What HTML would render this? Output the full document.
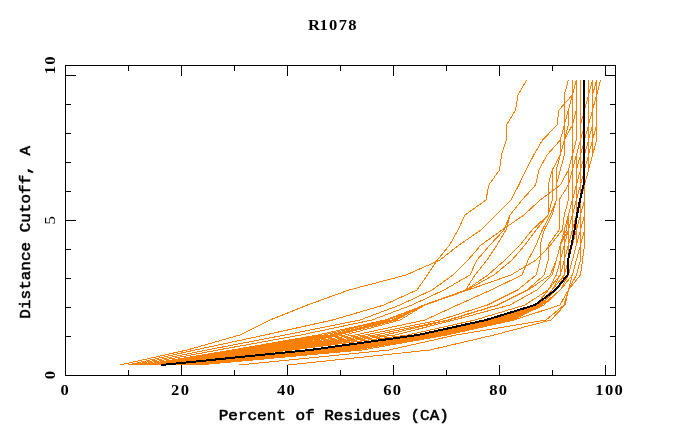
<!DOCTYPE html>
<html lang="en"><head><meta charset="utf-8"><title>R1078</title>
<style>
html,body{margin:0;padding:0;background:#fff;}
body{width:680px;height:440px;overflow:hidden;}
svg{display:block;will-change:transform;}
text{font-family:"Liberation Mono","DejaVu Sans Mono",monospace;font-weight:bold;font-size:14.2px;fill:#000;}
text.d{font-family:"Liberation Serif","DejaVu Serif",serif;font-size:14.8px;}
text.l{font-weight:normal;stroke:#000;stroke-width:0.55px;stroke-linejoin:round;}
</style></head><body>
<svg width="680" height="440" viewBox="0 0 680 440">
<rect x="0" y="0" width="680" height="440" fill="#fff"/>
<g shape-rendering="crispEdges" stroke-linejoin="round">
<polyline points="120,365 187,350 240,335 270,320 307.5,305 349,290 406,275 440,260 459,245 481,230 496,215 511,200 518.8,185 526,170 533.8,155 542.5,140 557,125 559,110 572.4,95 576.4,80" fill="none" stroke="#ff8000" stroke-width="1"/>
<polyline points="128,365 195,350 265,335 332.5,320 384,305 417,290 427.4,275 437.4,260 449.6,245 458,230 465,215 486,200 488.8,185 499.5,170 501.5,155 506.4,140 506.6,125 515.5,110 518,95 526.6,80" fill="none" stroke="#ff8000" stroke-width="1"/>
<polyline points="132,365 207,350 285,335 360,320 400,305 432,290 453,275 468,260 481,245 502,230 524,215 540.1,200 560.3,185 568.4,170 572.4,155 572.4,140 572.4,125 572.4,110 572.4,95 572.4,80" fill="none" stroke="#ff8000" stroke-width="1"/>
<polyline points="137,365 218,350 301,335 372,320 412,305 444,290 470,275 477,260 490,245 504,230 510,215 522,200 535.6,185 539,170 547,155 560.3,140 564.3,125 564.3,110 564.3,95 568.4,80" fill="none" stroke="#ff8000" stroke-width="1"/>
<polyline points="142,365 232,350 318,335 385,320 425,305 465.6,290 475,275 487,260 497,245 506,230 510,215 522,200 535.6,185 539,170 547,155 560.3,140 564.3,125 564.3,110 564.3,95 568.4,80" fill="none" stroke="#ff8000" stroke-width="1"/>
<polyline points="145,365 240,350 330,335 392,320 424,305 466,290 488,275 505,260 520,245 532.1,230 548.2,215 548.2,200 548.2,185 552.2,170 560.3,155 560.3,140 564.3,125 564.3,110 564.3,95 568.4,80" fill="none" stroke="#ff8000" stroke-width="1"/>
<polyline points="147,365 246,350 338,335 396,320 424,305 467,290 494,275 512,260 525,245 536.1,230 548.2,215 552.2,200 552.2,185 552.2,170 560.3,155 564.3,140 564.3,125 568.4,110 572.4,95 576.4,80" fill="none" stroke="#ff8000" stroke-width="1"/>
<polyline points="149,365 250,350 345,335 400,320 425,305 468,290 511,275 536.1,260 550.6,245 562.3,230 564.3,215 568.4,200 568.4,185 568.4,170 572.4,155 576.4,140 576.4,125 576.4,110 576.4,95 576.4,80" fill="none" stroke="#ff8000" stroke-width="1"/>
<polyline points="151,365 256,350 355,335 425,320 457.5,305 491,290 522,275 528.1,260 536.1,245 542.2,230 550.2,215 556.3,200 556.3,185 556.3,170 560.3,155 564.3,140 568.4,125 568.4,110 572.4,95 572.4,80" fill="none" stroke="#ff8000" stroke-width="1"/>
<polyline points="153,365 262,350 365,335 440,320 487.5,305 517.5,290 536.1,275 540.1,260 540.1,245 544.2,230 552.2,215 556.3,200 556.3,185 560.3,170 564.3,155 564.3,140 572.4,125 572.4,110 572.4,95 572.4,80" fill="none" stroke="#ff8000" stroke-width="1"/>
<polyline points="155,365 268,350 375,335 448,320 497,305 527,290 544.2,275 548.2,260 548.2,245 559.1,230 559.1,215 559.1,200 568.4,185 572.4,170 572.4,155 572.4,140 572.4,125 576.4,110 576.4,95 576.4,80" fill="none" stroke="#ff8000" stroke-width="1"/>
<polyline points="157,365 274,350 385,335 449,320 498,305 528,290 550.2,275 556.3,260 560.3,245 568.4,230 568.4,215 572.4,200 572.4,185 572.4,170 576.4,155 580.5,140 580.5,125 580.5,110 580.5,95 580.5,80" fill="none" stroke="#ff8000" stroke-width="1"/>
<polyline points="159,365 282,350 395,335 454,320 510,305 537,290 552.2,275 556.3,260 560.3,245 566.3,230 568.4,215 572.4,200 576.4,185 576.4,170 576.4,155 580.5,140 580.5,125 584.5,110 584.5,95 584.5,80" fill="none" stroke="#ff8000" stroke-width="1"/>
<polyline points="160,365 292,350 408,335 475,320 525,305 548,290 560.3,275 560.3,260 564.3,245 568.4,230 572.4,215 576.4,200 576.4,185 580.5,170 580.5,155 580.5,140 580.5,125 580.5,110 580.5,95 580.5,80" fill="none" stroke="#ff8000" stroke-width="1"/>
<polyline points="146,365 313,350 421,335 488,320 536,305 548.2,290 556.3,275 560.3,260 560.3,245 564.3,230 568.4,215 572.4,200 576.4,185 576.4,170 580.5,155 580.5,140 580.5,125 584.5,110 584.5,95 584.5,80" fill="none" stroke="#ff8000" stroke-width="1"/>
<polyline points="150,365 316.8,350 423,335 490.2,320 536.5,305 548.2,290 556.3,275 560.3,260 564.3,245 564.3,230 568.4,215 572.4,200 576.4,185 580.5,170 580.5,155 580.5,140 584.5,125 584.5,110 584.5,95 584.5,80" fill="none" stroke="#ff8000" stroke-width="1"/>
<polyline points="154,365 320.6,350 425,335 492.4,320 537,305 548.2,290 560.3,275 560.3,260 564.3,245 568.4,230 568.4,215 572.4,200 576.4,185 580.5,170 580.5,155 584.5,140 584.5,125 584.5,110 588.5,95 588.5,80" fill="none" stroke="#ff8000" stroke-width="1"/>
<polyline points="158,365 324.4,350 427,335 494.6,320 537.5,305 552.2,290 560.3,275 564.3,260 564.3,245 568.4,230 572.4,215 572.4,200 576.4,185 580.5,170 584.5,155 584.5,140 588.5,125 588.5,110 588.5,95 588.5,80" fill="none" stroke="#ff8000" stroke-width="1"/>
<polyline points="163,365 328.2,350 429,335 496.8,320 538,305 552.2,290 560.3,275 564.3,260 568.4,245 568.4,230 572.4,215 576.4,200 580.5,185 580.5,170 584.5,155 588.5,140 588.5,125 588.5,110 588.5,95 592.5,80" fill="none" stroke="#ff8000" stroke-width="1"/>
<polyline points="168,365 332,350 431,335 499,320 538.5,305 552.2,290 564.3,275 564.3,260 568.4,245 572.4,230 572.4,215 576.4,200 580.5,185 584.5,170 584.5,155 588.5,140 588.5,125 592.5,110 592.5,95 592.5,80" fill="none" stroke="#ff8000" stroke-width="1"/>
<polyline points="173,365 335.8,350 433,335 501.2,320 539,305 552.2,290 564.3,275 568.4,260 568.4,245 572.4,230 576.4,215 576.4,200 580.5,185 584.5,170 588.5,155 588.5,140 592.5,125 592.5,110 592.5,95 592.5,80" fill="none" stroke="#ff8000" stroke-width="1"/>
<polyline points="178,365 339.6,350 435,335 503.4,320 539.5,305 556.3,290 564.3,275 568.4,260 572.4,245 572.4,230 576.4,215 580.5,200 580.5,185 584.5,170 588.5,155 592.5,140 592.5,125 592.5,110 592.5,95 596.6,80" fill="none" stroke="#ff8000" stroke-width="1"/>
<polyline points="183,365 343.4,350 437,335 505.6,320 540,305 556.3,290 568.4,275 568.4,260 572.4,245 576.4,230 576.4,215 580.5,200 584.5,185 584.5,170 588.5,155 592.5,140 592.5,125 592.5,110 596.6,95 596.6,80" fill="none" stroke="#ff8000" stroke-width="1"/>
<polyline points="188,365 347.2,350 439,335 507.8,320 541,305 556.3,290 568.4,275 572.4,260 576.4,245 576.4,230 580.5,215 580.5,200 584.5,185 588.5,170 588.5,155 592.5,140 596.6,125 596.6,110 596.6,95 596.6,80" fill="none" stroke="#ff8000" stroke-width="1"/>
<polyline points="193,365 351,350 441,335 510,320 542,305 560.3,290 568.4,275 572.4,260 576.4,245 580.5,230 580.5,215 584.5,200 584.5,185 588.5,170 592.5,155 592.5,140 596.6,125 596.6,110 596.6,95 600.6,80" fill="none" stroke="#ff8000" stroke-width="1"/>
<polyline points="198,365 354.8,350 443,335 512.2,320 544,305 560.3,290 572.4,275 576.4,260 580.5,245 580.5,230 584.5,215 584.5,200 584.5,185 588.5,170 592.5,155 596.6,140 596.6,125 596.6,110 596.6,95 600.6,80" fill="none" stroke="#ff8000" stroke-width="1"/>
<polyline points="198,365 362,350 447,335 514,320 560,305 568.4,290 572.4,275 576.4,260 580.5,245 584.5,230 584.5,215 584.5,200 584.5,185 588.5,170 592.5,155 592.5,140 596.6,125 596.6,110 596.6,95 596.6,80" fill="none" stroke="#ff8000" stroke-width="1"/>
<polyline points="239,365 389,350 456,335 546,320 564,305 568.4,290 576.4,275 580.5,260 580.5,245 584.5,230 584.5,215 584.5,200 584.5,185 588.5,170 588.5,155 592.5,140 592.5,125 592.5,110 592.5,95 596.6,80" fill="none" stroke="#ff8000" stroke-width="1"/>
<polyline points="288,365 430,350 494,335 551,320 565,305 568.4,290 580.5,275 582.5,260 584.5,245 584.5,230 584.5,215 584.5,200 584.5,185 588.5,170 592.5,155 596.6,140 596.6,125 596.6,110 596.6,95 600.6,80" fill="none" stroke="#ff8000" stroke-width="1"/>
<polyline points="143,365 236,350 324,335 388,320 424,305 466,290 488,275 505,260 520,245 532.1,230 548.2,215 548.2,200 548.2,185 552.2,170 560.3,155 560.3,140 564.3,125 564.3,110 564.3,95 568.4,80" fill="none" stroke="#ff8000" stroke-width="1"/>
<polyline points="146,365 243,350 334,335 394,320 424,305 467,290 494,275 512,260 525,245 536.1,230 548.2,215 552.2,200 552.2,185 552.2,170 560.3,155 564.3,140 564.3,125 568.4,110 572.4,95 576.4,80" fill="none" stroke="#ff8000" stroke-width="1"/>
<polyline points="150,365 253,350 355,335 425,320 457.5,305 491,290 522,275 528.1,260 536.1,245 542.2,230 550.2,215 556.3,200 556.3,185 556.3,170 560.3,155 564.3,140 568.4,125 568.4,110 572.4,95 572.4,80" fill="none" stroke="#ff8000" stroke-width="1"/>
<polyline points="152,365 259,350 365,335 440,320 487.5,305 517.5,290 536.1,275 540.1,260 540.1,245 544.2,230 552.2,215 556.3,200 556.3,185 560.3,170 564.3,155 564.3,140 572.4,125 572.4,110 572.4,95 572.4,80" fill="none" stroke="#ff8000" stroke-width="1"/>
<polyline points="154,365 265,350 375,335 448,320 497,305 527,290 544.2,275 548.2,260 548.2,245 559.1,230 559.1,215 559.1,200 568.4,185 572.4,170 572.4,155 572.4,140 572.4,125 576.4,110 576.4,95 576.4,80" fill="none" stroke="#ff8000" stroke-width="1"/>
<polyline points="156,365 271,350 385,335 449,320 498,305 528,290 550.2,275 556.3,260 560.3,245 568.4,230 568.4,215 572.4,200 572.4,185 572.4,170 576.4,155 580.5,140 580.5,125 580.5,110 580.5,95 580.5,80" fill="none" stroke="#ff8000" stroke-width="1"/>
<polyline points="158,365 278,350 395,335 454,320 510,305 537,290 552.2,275 556.3,260 560.3,245 566.3,230 568.4,215 572.4,200 576.4,185 576.4,170 576.4,155 580.5,140 580.5,125 584.5,110 584.5,95 584.5,80" fill="none" stroke="#ff8000" stroke-width="1"/>
<polyline points="159.5,365 287,350 408,335 475,320 525,305 548,290 560.3,275 560.3,260 564.3,245 568.4,230 572.4,215 576.4,200 576.4,185 580.5,170 580.5,155 580.5,140 580.5,125 580.5,110 580.5,95 580.5,80" fill="none" stroke="#ff8000" stroke-width="1"/>
<polyline points="161,365 310,350 418,335 486,320 535,305 555.5,290 567.5,275 568,260 571.5,245 574.5,230 577,215 580,200 583.5,185 584,170 584,155 584,140 584,125 584,110 584,95 584,80" fill="none" stroke="#000" stroke-width="2"/>
</g>
<g shape-rendering="crispEdges" stroke="#000" stroke-width="1" fill="none">
<rect x="65.5" y="65.5" width="550" height="310"/>
<path d="M128.5 65v6M128.5 376v-6"/>
<path d="M181.5 65v11M181.5 376v-11"/>
<path d="M234.5 65v6M234.5 376v-6"/>
<path d="M287.5 65v11M287.5 376v-11"/>
<path d="M340.5 65v6M340.5 376v-6"/>
<path d="M393.5 65v11M393.5 376v-11"/>
<path d="M446.5 65v6M446.5 376v-6"/>
<path d="M499.5 65v11M499.5 376v-11"/>
<path d="M552.5 65v6M552.5 376v-6"/>
<path d="M605.5 65v11M605.5 376v-11"/>
<path d="M65 75.5h11M616 75.5h-11"/>
<path d="M65 104.5h6M616 104.5h-6"/>
<path d="M65 133.5h6M616 133.5h-6"/>
<path d="M65 162.5h6M616 162.5h-6"/>
<path d="M65 191.5h6M616 191.5h-6"/>
<path d="M65 220.5h11M616 220.5h-11"/>
<path d="M65 249.5h6M616 249.5h-6"/>
<path d="M65 278.5h6M616 278.5h-6"/>
<path d="M65 307.5h6M616 307.5h-6"/>
<path d="M65 336.5h6M616 336.5h-6"/>
</g>
<g text-anchor="middle">
<text class="d" transform="translate(333.2 29.9) scale(1.12 1)" x="-17.1 -8.57 0 8.57 17.14">R1078</text>
<text class="l" transform="translate(333.8 420.4) scale(1.127 1)">Percent of Residues (CA)</text>
<text class="d" transform="translate(64.6 395.2) scale(1.12 1) translate(0.585 0)" letter-spacing="1.17">0</text>
<text class="d" transform="translate(180 395.2) scale(1.12 1) translate(0.585 0)" letter-spacing="1.17">20</text>
<text class="d" transform="translate(285.9 395.2) scale(1.12 1) translate(0.585 0)" letter-spacing="1.17">40</text>
<text class="d" transform="translate(392.1 395.2) scale(1.12 1) translate(0.585 0)" letter-spacing="1.17">60</text>
<text class="d" transform="translate(498.1 395.2) scale(1.12 1) translate(0.585 0)" letter-spacing="1.17">80</text>
<text class="d" transform="translate(609.1 395.2) scale(1.12 1) translate(0.585 0)" letter-spacing="1.17">100</text>
<text class="l" transform="translate(30 232.3) rotate(-90) scale(1.127 1)">Distance Cutoff, A</text>
<text class="d" transform="translate(55.2 65.3) rotate(-90) scale(1.12 1) translate(0.585 0)" letter-spacing="1.17">10</text>
<text class="d" transform="translate(55.2 220.3) rotate(-90) scale(1.12 1) translate(0.585 0)" letter-spacing="1.17" style="font-weight:normal">5</text>
<text class="d" transform="translate(55.2 375) rotate(-90) scale(1.12 1) translate(0.585 0)" letter-spacing="1.17">0</text>
</g>
</svg></body></html>
